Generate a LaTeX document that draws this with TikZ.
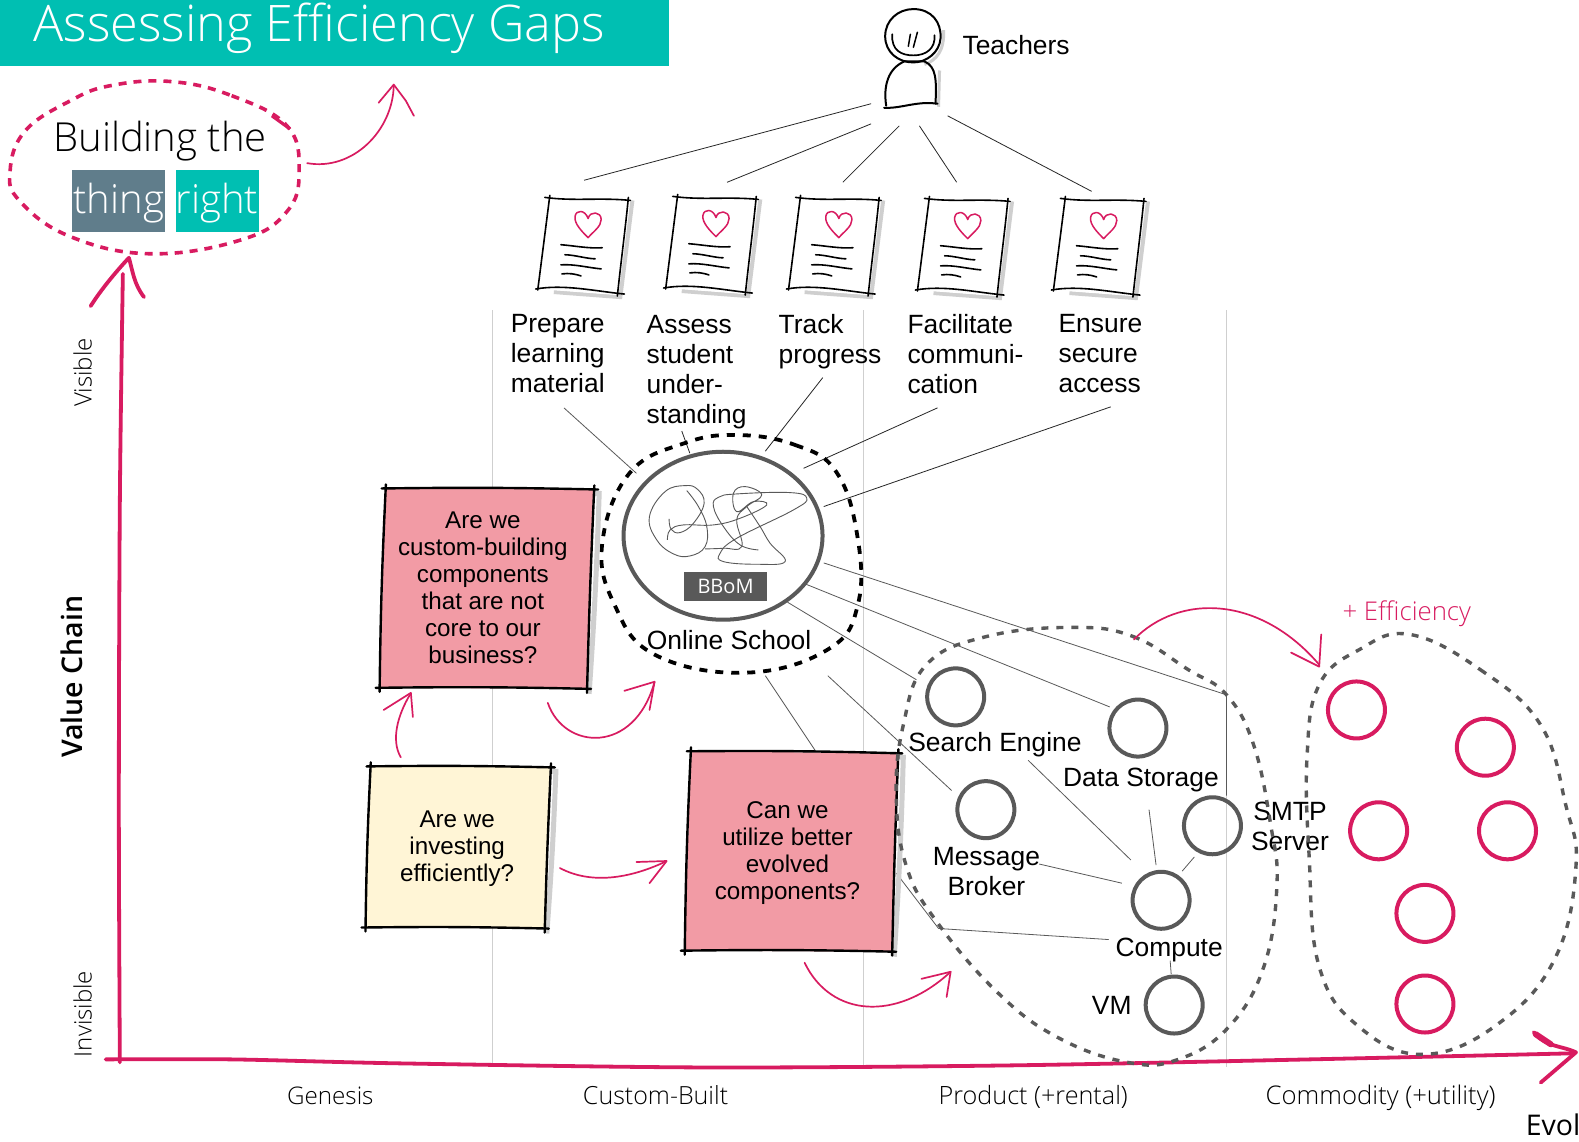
\documentclass[tikz,border=0pt]{standalone}
\usepackage{fontspec}
\setmainfont{Liberation Sans}
\newfontfamily\lightf{Open Sans}[UprightFont={* Light}]
\newfontfamily\regf{Open Sans}
\newfontfamily\semif{Open Sans}[UprightFont={* Semibold}]
\usetikzlibrary{calc,shapes.geometric}
\definecolor{crim}{HTML}{D81B60}
\definecolor{teal1}{HTML}{00BFB2}
\definecolor{slate}{HTML}{607D8B}
\definecolor{dgray}{HTML}{595959}
\definecolor{shad}{HTML}{CFCFCF}
\definecolor{pinkb}{HTML}{F29BA5}
\definecolor{yellowb}{HTML}{FFF5D6}
\tikzset{
  lab/.style={font=\fontsize{26.4}{30}\selectfont,inner sep=0pt,align=left,text=black},
  clab/.style={lab,align=center},
  qtext/.style={font=\fontsize{24.2}{27}\selectfont,inner sep=0pt,align=center,text=black},
  lighttext/.style={font=\lightf\fontsize{24}{28}\selectfont,inner sep=0pt,text=black},
  conn/.style={draw=black!85,line width=0.8pt},
  gconn/.style={draw=dgray,line width=0.8pt},
  vline/.style={draw=shad,line width=1pt},
  blobg/.style={draw=dgray,line width=3.4pt,dash pattern=on 7pt off 8pt},
  blobk/.style={draw=black,line width=3.8pt,dash pattern=on 8pt off 8pt},
  blobc/.style={draw=crim,line width=3.6pt,dash pattern=on 8pt off 7pt},
  gcirc/.style={draw=dgray,line width=4pt,circle,minimum size=57pt,inner sep=0pt},
  ccirc/.style={draw=crim,line width=4pt,circle,minimum size=57pt,inner sep=0pt},
  axis/.style={draw=crim,line width=3.8pt,line cap=round},
  parrow/.style={draw=crim,line width=1.7pt,line cap=round,line join=round},
  sk/.style={draw=black,line width=2.4pt,line cap=round},
  skthin/.style={draw=black,line width=1.6pt,line cap=round},
  skshadow/.style={draw=shad,line width=5pt},
  over/.style={shorten >=-4pt,shorten <=-4pt},
}
\newcommand{\sketchbox}[5]{%
  \draw[skshadow] ($(#2)+(5,2)$) to[bend left=1] ($(#3)+(5,4)$) to[bend left=1] ($(#4)+(2,5)$);
  \fill[#1] (#2) -- (#3) -- (#4) -- (#5) -- cycle;
  \draw[sk,over] (#2) to[bend left=1] (#3);
  \draw[sk,over] (#3) to[bend right=0.5] (#4);
  \draw[sk,over] (#4) to[bend right=1] (#5);
  \draw[sk,over] (#5) to[bend left=1] (#2);
}
\newcommand{\docicon}[2]{%
  \begin{scope}[shift={(#1,#2)}]
    \draw[skshadow,line width=4pt] (83,2) -- (71,98) -- (5,93);
    \fill[white] (0,0) -- (79,1) -- (68,96) -- (-11,90) -- cycle;
    \draw[skthin] (-4,-1) .. controls (25,3) and (50,-1) .. (81,2);
    \draw[skthin] (1,-3) -- (-11,91);
    \draw[skthin] (79,-1) .. controls (76,30) and (72,60) .. (68,97);
    \draw[skthin] (-13,90) .. controls (15,85) and (45,92) .. (75,95);
    \draw[crim,line width=1.5pt,line join=round] (39,39) .. controls (33,33) and (25,25) .. (26,18) .. controls (27,11) and (36,11) .. (39,20) .. controls (41,12) and (52,13) .. (52,21) .. controls (52,28) and (44,33) .. (39,39) -- cycle;
    \draw[skthin] (12,46) .. controls (25,47) and (40,50) .. (53,49);
    \draw[skthin] (16,56) .. controls (25,56) and (38,60) .. (46,60);
    \draw[skthin] (12,66) .. controls (25,65) and (40,69) .. (52,70);
    \draw[skthin] (13,75) .. controls (20,74) and (26,75) .. (32,77);
  \end{scope}%
}
\begin{document}
\begin{tikzpicture}[x=1.007pt,y=-1.007pt]
\clip (0,0) rectangle (1568,1134);
\fill[white] (0,0) rectangle (1568,1134);

% banner
\fill[teal1] (0,0) rectangle (664,65.5);
\node[anchor=base west,inner sep=0pt,text=white,font=\lightf\fontsize{50.4}{50}\selectfont] (title) at (33,41) {Assessing Efficiency Gaps};

% vertical gridlines
\coordinate (g1t) at (489,308); \coordinate (g1b) at (489,1060);
\coordinate (g2t) at (857,308); \coordinate (g2b) at (857,1060);
\coordinate (g3t) at (1218,308); \coordinate (g3b) at (1218,1060);
\draw[vline] (g1t) -- (g1b);
\draw[vline] (g2t) -- (g2b);
\draw[vline] (g3t) -- (g3b);

% building the thing right
\node[anchor=center,inner sep=0pt,font=\lightf\fontsize{40}{40}\selectfont] (build) at (159,140) {Building the};
\node[fill=slate,minimum width=93pt,minimum height=62pt,inner sep=0pt] (thing) at (117.5,200) {};
\node[fill=teal1,minimum width=83pt,minimum height=62pt,inner sep=0pt] (right) at (215.5,200) {};
\node[text=white,inner sep=0pt,font=\lightf\fontsize{40}{40}\selectfont,anchor=base] (thingt) at (118,212) {thing};
\node[text=white,inner sep=0pt,font=\lightf\fontsize{40}{40}\selectfont,anchor=base] (rightt) at (215.5,212) {right};
\draw[blobc] plot[smooth cycle,tension=0.7] coordinates {(170,81) (230,95) (285,125) (297,170) (285,210) (240,238) (150,252) (70,235) (20,200) (10,170) (25,130) (70,100) (110,85)};
\draw[crim,line width=3.2pt] (270,115) -- (288,128);

% axes
\draw[axis] plot[smooth,tension=0.5] coordinates {(119,1055) (118,800) (119,500) (122,272)};
\draw[axis,line join=round] (90,304) .. controls (100,288) and (115,270) .. (128,256) .. controls (132,270) and (133,282) .. (143,295);
\draw[axis] plot[smooth,tension=0.5] coordinates {(105,1052) (230,1052) (400,1056) (700,1060) (1000,1058) (1300,1052) (1560,1046)};
\draw[axis,line join=round] (1523,1025) .. controls (1535,1040) and (1550,1038) .. (1565,1045) -- (1530,1075);
\draw[axis,line width=6pt] (1525,1027) -- (1540,1037);

% side labels
\node[lighttext,rotate=90] (visible) at (82,370) {Visible};
\node[lighttext,rotate=90] (invisible) at (82,1007) {Invisible};
\node[inner sep=0pt,rotate=90,font=\semif\fontsize{28.5}{30}\selectfont] (vchain) at (71,672) {Value Chain};
\node[lighttext,anchor=base,font=\lightf\fontsize{24.2}{28}\selectfont] (gen) at (328,1097) {Genesis};
\node[lighttext,anchor=base,font=\lightf\fontsize{25}{28}\selectfont] (cust) at (651,1097) {Custom-Built};
\node[lighttext,anchor=base,font=\lightf\fontsize{25.2}{28}\selectfont] (prod) at (1026,1097) {Product (+rental)};
\node[lighttext,anchor=base,font=\lightf\fontsize{25.7}{28}\selectfont] (comm) at (1371,1097) {Commodity (+utility)};
\node[anchor=base west,inner sep=0pt,font=\regf\fontsize{28.5}{30}\selectfont] (evol) at (1515,1128) {Evol};
\node[text=crim,inner sep=0pt,anchor=base,font=\lightf\fontsize{25.8}{28}\selectfont] (eff) at (1397,616) {+ Efficiency};

% teacher
\draw[skshadow,line width=3pt] (937,30) .. controls (938,50) and (930,60) .. (918,64);
\draw[skshadow,line width=3pt] (933,70) -- (932,106);
\draw[sk,line width=2pt] (907,9) .. controls (925,9) and (935,22) .. (934,38) .. controls (933,52) and (920,62) .. (907,62) .. controls (892,62) and (879,52) .. (879,36) .. controls (879,20) and (892,9) .. (907,9) -- cycle;
\draw[sk,line width=1.7pt] (886,34) .. controls (885,50) and (895,55) .. (907,55) .. controls (920,55) and (929,48) .. (928,35);
\draw[sk,line width=1.5pt] (904,34) -- (902,46);
\draw[sk,line width=1.5pt] (911,32) -- (907,47);
\draw[sk,line width=2pt] (880,105) .. controls (877,85) and (882,68) .. (898,61) -- (918,61) .. controls (930,66) and (930,80) .. (929,103);
\draw[sk,line width=2pt] (878,107) .. controls (895,108) and (910,100) .. (931,103);
\node[lab] (teachers) at (1009,45) {Teachers};

% documents
\docicon{545}{197}
\docicon{672}{196}
\docicon{794}{197}
\docicon{922}{198}
\docicon{1057}{198}

\coordinate (t1) at (865,103); \coordinate (d1) at (580,179);
\coordinate (t2) at (865,123); \coordinate (d2) at (722,181);
\coordinate (t3) at (893,125); \coordinate (d3) at (837,181);
\coordinate (t4) at (913,125); \coordinate (d4) at (950,181);
\coordinate (t5) at (941,115); \coordinate (d5) at (1084,190);
\draw[conn] (t1) -- (d1);
\draw[conn] (t2) -- (d2);
\draw[conn] (t3) -- (d3);
\draw[conn] (t4) -- (d4);
\draw[conn] (t5) -- (d5);

% need labels
\node[lab,anchor=north west] (need1) at (507,312) {Prepare\\learning\\material};
\node[lab,anchor=north west] (need2) at (642,312.5) {Assess\\student\\under-\\standing};
\node[lab,anchor=north west] (need3) at (773,312) {Track\\progress};
\node[lab,anchor=north west] (need4) at (901,312) {Facilitate\\communi-\\cation};
\node[lab,anchor=north west] (need5) at (1051,312) {Ensure\\secure\\access};

% connectors into online school
\coordinate (a1) at (560,405); \coordinate (a1e) at (632,470);
\coordinate (a2) at (677,428); \coordinate (a2e) at (685,450);
\coordinate (a3) at (817,375); \coordinate (a3e) at (760,448);
\coordinate (a4) at (931,405); \coordinate (a4e) at (798,465);
\coordinate (a5) at (1103,404); \coordinate (a5e) at (818,503);
\draw[gconn] (a1) -- (a1e);
\draw[conn] (a2) -- (a2e);
\draw[conn] (a3) -- (a3e);
\draw[conn] (a4) -- (a4e);
\draw[conn] (a5) -- (a5e);

\coordinate (b1) at (818,559); \coordinate (b1m) at (1218,690); \coordinate (b1e) at (1218,790);
\coordinate (b2) at (800,580); \coordinate (b2e) at (1102,702);
\coordinate (b3) at (782,598); \coordinate (b3e) at (910,675);
\coordinate (b4) at (822,671); \coordinate (b4e) at (945,785);
\coordinate (b5) at (760,671); \coordinate (b5e) at (810,746);
\draw[gconn] (b1) -- (b1m) -- (b1e);
\draw[gconn] (b2) -- (b2e);
\draw[gconn] (b3) -- (b3e);
\draw[gconn] (b4) -- (b4e);
\draw[gconn] (b5) -- (b5e);

\coordinate (c1) at (1021,755); \coordinate (c1e) at (1123,854);
\coordinate (c2) at (1141,804); \coordinate (c2e) at (1148,859);
\coordinate (c3) at (1186,851); \coordinate (c3e) at (1174,865);
\coordinate (c4) at (1032,858); \coordinate (c4e) at (1114,877);
\coordinate (c5) at (890,867); \coordinate (c5m) at (932,922); \coordinate (c5e) at (1101,933);
\coordinate (c6) at (1162,954); \coordinate (c6e) at (1163,967);
\draw[gconn] (c1) -- (c1e);
\draw[gconn] (c2) -- (c2e);
\draw[gconn] (c3) -- (c3e);
\draw[gconn] (c4) -- (c4e);
\draw[gconn] (c5) -- (c5m) -- (c5e);
\draw[gconn] (c6) -- (c6e);

% online school
\node[draw=dgray,line width=4pt,ellipse,minimum width=199pt,minimum height=168pt,inner sep=0pt] (bbomring) at (718,532) {};
\begin{scope}[shift={(586,417)},x=0.3333pt,y=-0.3333pt]
\draw[dgray,line width=0.9pt] plot[smooth,tension=0.7] coordinates {(237,297) (243,328) (270,338) (310,310) (342,250) (322,208) (285,197) (225,215) (178,290) (200,360) (250,402) (300,408) (345,380) (350,320) (325,260) (290,212)};
\draw[dgray,line width=0.9pt] plot[smooth,tension=0.7] coordinates {(232,360) (240,330) (280,315) (370,315) (450,295) (530,255) (490,245) (440,275) (430,220) (465,200) (515,225) (470,260) (440,300) (455,380) (400,385) (345,387)};
\draw[dgray,line width=0.9pt] plot[smooth,tension=0.7] coordinates {(505,390) (450,375) (400,320) (370,260) (385,232) (440,222) (600,218) (650,235) (610,270) (440,355) (390,400) (400,425) (500,433) (585,425) (540,370) (510,320) (470,260)};
\end{scope}
\node[fill=dgray,text=white,minimum width=83pt,minimum height=29pt,inner sep=0pt,font=\regf\fontsize{20}{20}\selectfont] (bbom) at (720.5,582.5) {BBoM};
\node[lab] (online) at (724,636) {Online School};
\draw[blobk] plot[smooth cycle,tension=0.7] coordinates {(733,432) (790,442) (830,468) (851,530) (852,600) (822,645) (740,668) (650,650) (610,600) (598,540) (625,470) (680,440)};

% boxes
\coordinate (pa1) at (383,485); \coordinate (pa2) at (590,486); \coordinate (pa3) at (583,684); \coordinate (pa4) at (377,683);
\sketchbox{pinkb}{pa1}{pa2}{pa3}{pa4}
\node[qtext] (q1) at (479.5,583.5) {Are we\\custom-building\\components\\that are not\\core to our\\business?};
\coordinate (ya1) at (368,761); \coordinate (ya2) at (547,762); \coordinate (ya3) at (541,922); \coordinate (ya4) at (363,921);
\sketchbox{yellowb}{ya1}{ya2}{ya3}{ya4}
\node[qtext] (q2) at (454,843) {Are we\\investing\\efficiently?};
\coordinate (pc1) at (686,746); \coordinate (pc2) at (892,748); \coordinate (pc3) at (886,945); \coordinate (pc4) at (680,944);
\sketchbox{pinkb}{pc1}{pc2}{pc3}{pc4}
\node[qtext] (q3) at (782,847) {Can we\\utilize better\\evolved\\components?};

% component circles
\node[gcirc] (search) at (949,692) {};
\node[gcirc] (data) at (1130,723) {};
\node[gcirc] (msg) at (979,804) {};
\node[gcirc] (smtp) at (1204,820) {};
\node[gcirc] (compute) at (1153,894) {};
\node[gcirc] (vm) at (1166,998) {};
\node[lab] (searchl) at (988,739) {Search Engine};
\node[lab] (datal) at (1133,775) {Data Storage};
\node[clab] (msgl) at (979.5,865) {Message\\Broker};
\node[clab] (smtpl) at (1281,821) {SMTP\\Server};
\node[lab] (computel) at (1161,943) {Compute};
\node[lab] (vml) at (1104,998) {VM};

\node[ccirc] (r1) at (1347,705) {};
\node[ccirc] (r2) at (1475,742) {};
\node[ccirc] (r3) at (1369,825) {};
\node[ccirc] (r4) at (1497,825) {};
\node[ccirc] (r5) at (1415,907) {};
\node[ccirc] (r6) at (1415,997) {};

% dashed blobs
\draw[blobg] plot[smooth cycle,tension=0.7] coordinates {(1065,623) (1125,632) (1180,665) (1218,690) (1245,740) (1262,820) (1268,880) (1255,960) (1220,1020) (1170,1052) (1120,1055) (1050,1030) (990,985) (930,915) (900,860) (890,790) (897,720) (920,660) (980,632)};
\draw[blobg] plot[smooth cycle,tension=0.7] coordinates {(1400,630) (1470,665) (1530,720) (1555,800) (1565,860) (1545,950) (1490,1015) (1415,1047) (1350,1020) (1310,960) (1300,850) (1298,750) (1310,680) (1350,645)};

% pink arrows
\draw[parrow] (305,162) .. controls (350,170) and (390,130) .. (391,85);
\draw[parrow] (376,102) -- (391,84) -- (403,100) -- (411,115);
\draw[parrow] (398,752) .. controls (388,735) and (395,710) .. (407,690);
\draw[parrow] (381,705) -- (408,688) -- (410,712);
\draw[parrow] (544,698) .. controls (560,745) and (630,750) .. (650,677);
\draw[parrow] (620,686) -- (650,677) -- (645,705);
\draw[parrow] (556,862) .. controls (590,880) and (630,870) .. (660,856);
\draw[parrow] (632,856) -- (662,855) -- (645,877);
\draw[parrow] (799,956) .. controls (825,1010) and (890,1015) .. (944,965);
\draw[parrow] (915,972) -- (944,965) -- (940,990);
\draw[parrow] (1126,635) .. controls (1170,590) and (1250,590) .. (1310,660);
\draw[parrow] (1312,630) -- (1310,662) -- (1282,648);
\end{tikzpicture}
\end{document}
